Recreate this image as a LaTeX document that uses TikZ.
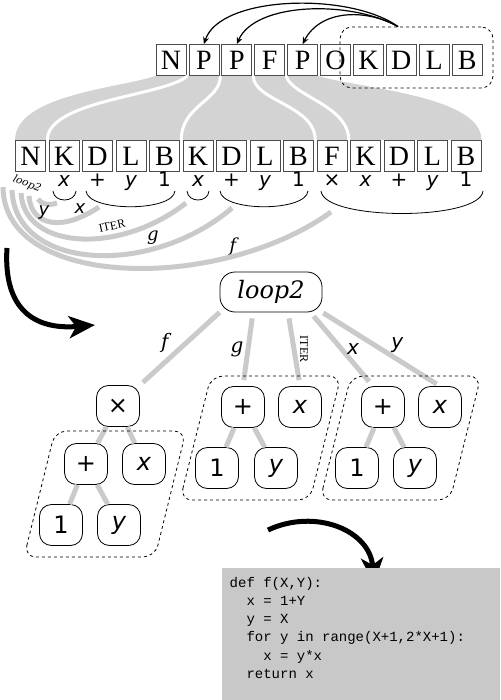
\documentclass[tikz,border=0pt]{standalone}
\usepackage{fontspec}
\setmainfont{Liberation Serif}
\setmonofont{Liberation Mono}
\newfontfamily\symfont{DejaVu Sans}
\newfontfamily\symit{DejaVu Sans}[UprightFont=* Oblique]
\newfontfamily\serit{DejaVu Serif}[UprightFont=* Italic]
\usetikzlibrary{arrows.meta, calc, backgrounds}
\definecolor{bandgray}{HTML}{d3d3d3}
\definecolor{edgegray}{HTML}{cacaca}
\definecolor{codegray}{HTML}{c8c8c8}
\newcommand{\vx}{{\symit x}}
\newcommand{\vy}{{\symit y}}

\tikzset{
  letterbox/.style={draw=black!70, line width=0.8pt, minimum width=30pt, minimum height=31pt, inner sep=0pt, font=\fontsize{28}{28}\selectfont},
  symb/.style={inner sep=0pt, font=\symfont\fontsize{20}{20}\selectfont},
  brace/.style={line width=0.8pt},
  argarc/.style={edgegray, line width=5pt},
  alabel/.style={inner sep=1pt, font=\symit\fontsize{18}{18}\selectfont},
  separator/.style={white, line width=3pt},
  toparrow/.style={line width=1.2pt, -{Stealth[length=7pt, width=6pt]}},
  tnode/.style={draw, fill=white, line width=0.8pt, rounded corners=12pt, minimum width=43pt, minimum height=41pt, inner sep=0pt, font=\symfont\fontsize{24}{24}\selectfont},
  tedge/.style={edgegray, line width=5pt},
  elabel/.style={inner sep=1pt, font=\serit\fontsize{20}{20}\selectfont},
  dashgrp/.style={dashed, line width=0.8pt, rounded corners=12pt},
  bigarrow/.style={line width=5pt, -{Stealth[length=26pt, width=22pt, inset=7pt]}},
  codetext/.style={inner sep=0pt, align=left, font=\ttfamily\fontsize{14}{18.2}\selectfont},
}

\begin{document}
\begin{tikzpicture}[x=1pt, y=-1pt]
\useasboundingbox (0,0) rectangle (500,700);

% the two rows of genes
\foreach \l [count=\i] in {N,P,P,F,P,O,K,D,L,B}
  \node[letterbox] (t\i) at ({171+32.9*(\i-1)},60) {\l};
\foreach \l [count=\i] in {N,K,D,L,B,K,D,L,B,F,K,D,L,B}
  \node[letterbox] (b\i) at ({30.5+33.5*(\i-1)},156) {\l};

% expansion bands
\begin{scope}[on background layer]
  \fill[bandgray] (t1.south west) .. controls (120,88) and (15,95) .. (b1.north west)
    -- (b14.north east) .. controls (482,95) and (355,88) .. (t5.south east) -- cycle;
\end{scope}
\draw[separator] ($(t1.south east)!.5!(t2.south west)$) .. controls +(-22,20) and +(0,-40) .. ($(b1.north east)!.5!(b2.north west)$);
\draw[separator] ($(t2.south east)!.5!(t3.south west)$) .. controls +(0,25) and +(0,-35) .. ($(b5.north east)!.5!(b6.north west)$);
\draw[separator] ($(t3.south east)!.5!(t4.south west)$) .. controls +(0,25) and +(0,-35) .. ($(b9.north east)!.5!(b10.north west)$);
\draw[separator] ($(t4.south east)!.5!(t5.south west)$) .. controls +(5,20) and +(0,-35) .. ($(b10.north east)!.5!(b11.north west)$);

% tail block and its references
\node[dashgrp, draw, minimum width=153pt, minimum height=61pt] (tail) at (416.5,57.5) {};
\coordinate (src) at ($(tail.north west)!0.38!(tail.north east)$);
\draw[toparrow] (src) .. controls (350,-8) and (220,-5) .. (t2.north);
\draw[toparrow] (src) .. controls (350,0) and (255,2) .. (t3.north);
\draw[toparrow] (src) .. controls (365,8) and (320,10) .. (t5.north);

% decoded symbols
\node[symb, rotate=-22, font=\serit\fontsize{10.5}{10.5}\selectfont] (s1) at (27,184) {loop2};
\foreach \s [count=\i from 2] in {\vx,+,\vy,1,\vx,+,\vy,1,×,\vx,+,\vy,1}
  \node[symb, anchor=base] (s\i) at ({30.5+33.5*(\i-1)},187) {\s};

% argument braces
\draw[brace] (53,191) .. controls (54,203) and (75,203) .. (76,191);
\draw[brace] (86,191) .. controls (88,212) and (173,212) .. (175,191);
\draw[brace] (187,191) .. controls (188,203) and (208,203) .. (209,191);
\draw[brace] (220,191) .. controls (222,212) and (306,212) .. (308,191);
\draw[brace] (321,191) .. controls (324,221) and (480,221) .. (483,191);

% argument arcs
\draw[argarc] (38,199) .. controls (41,204) and (48,206) .. (57,203);
\draw[argarc] (29,196) .. controls (31,226) and (62,232) .. (99,207);
\draw[argarc] (21,193) .. controls (24,250) and (120,255) .. (186,203);
\draw[argarc] (12,190) .. controls (15,270) and (150,278) .. (232,208);
\draw[argarc] (3,187) .. controls (4,290) and (220,292) .. (331,212);
\node[alabel] (ly1) at (44,212) {y};
\node[alabel] (lx1) at (80,209) {x};
\node[inner sep=1pt, rotate=12, font=\fontsize{12}{12}\selectfont] (lit1) at (112,226) {ITER};
\node[alabel, font=\serit\fontsize{18}{18}\selectfont] (lg1) at (153,238) {g};
\node[alabel, font=\serit\fontsize{18}{18}\selectfont] (lf1) at (233,247) {f};

\draw[bigarrow] (7,248) .. controls (3,310) and (35,330) .. (95,325);

% program tree
\node[tnode, minimum width=102pt, minimum height=40pt, rounded corners=15pt, font=\serit\fontsize{24}{24}\selectfont] (root) at (271,292) {loop2};
\node[tnode] (mul) at (118,406) {×};
\node[tnode] (lplus) at (86,464) {+};
\node[tnode] (lx) at (144,464) {\vx};
\node[tnode] (lone) at (61,525) {1};
\node[tnode] (ly) at (119,525) {\vy};
\node[tnode] (mplus) at (243,407) {+};
\node[tnode] (mx) at (300,407) {\vx};
\node[tnode] (mone) at (217,468) {1};
\node[tnode] (my) at (276,468) {\vy};
\node[tnode] (rplus) at (383,407) {+};
\node[tnode] (rx) at (440,407) {\vx};
\node[tnode] (rone) at (357,468) {1};
\node[tnode] (ry) at (415,468) {\vy};

\draw[tedge] (mul) -- (lplus);
\draw[tedge] (mul) -- (lx);
\draw[tedge] (lplus) -- (lone);
\draw[tedge] (lplus) -- (ly);
\draw[tedge] (mplus) -- (mone);
\draw[tedge] (mplus) -- (my);
\draw[tedge] (rplus) -- (rone);
\draw[tedge] (rplus) -- (ry);

\draw[tedge, shorten >=4pt] (root.south west) -- (mul.north east)
  node[elabel, midway, xshift=-15pt, yshift=6pt, black] {f};
\draw[tedge, shorten <=6pt, shorten >=6pt] ($(root.south)+(-18,0)$) -- (mplus.north)
  node[elabel, midway, left=1pt, black] {g};
\draw[tedge, shorten <=6pt, shorten >=6pt] ($(root.south)+(17,0)$) -- (mx.north)
  node[midway, anchor=south, rotate=-90, inner sep=3.5pt, black, font=\fontsize{12}{12}\selectfont] {ITER};
\draw[tedge, shorten <=5pt, shorten >=6pt] ($(root.south east)+(-12,0)$) -- ($(rplus.north)+(-10,0)$)
  node[elabel, midway, right=2pt, black, font=\symit\fontsize{20}{20}\selectfont] {x};
\draw[tedge, shorten <=1pt, shorten >=4pt] (root.south east) -- (rx.north)
  node[elabel, midway, xshift=16pt, yshift=4pt, black, font=\symit\fontsize{20}{20}\selectfont] {y};

\draw[dashgrp] (24,557) -- (55,431) -- (186,431) -- (155,557) -- cycle;
\draw[dashgrp] (180,500) -- (211,376) -- (341,376) -- (310,500) -- cycle;
\draw[dashgrp] (320,500) -- (351,376) -- (481,376) -- (450,500) -- cycle;

\draw[bigarrow] (268,530) .. controls (315,508) and (370,530) .. (374,584);

% generated code
\fill[codegray] (222,568) rectangle (500,700);
\node[codetext, anchor=north west] (code) at (229.5,577) {def f(X,Y):\\
\hphantom{xx}x = 1+Y\\
\hphantom{xx}y = X\\
\hphantom{xx}for y in range(X+1,2*X+1):\\
\hphantom{xxxx}x = y*x\\
\hphantom{xx}return x};
\end{tikzpicture}
\end{document}
